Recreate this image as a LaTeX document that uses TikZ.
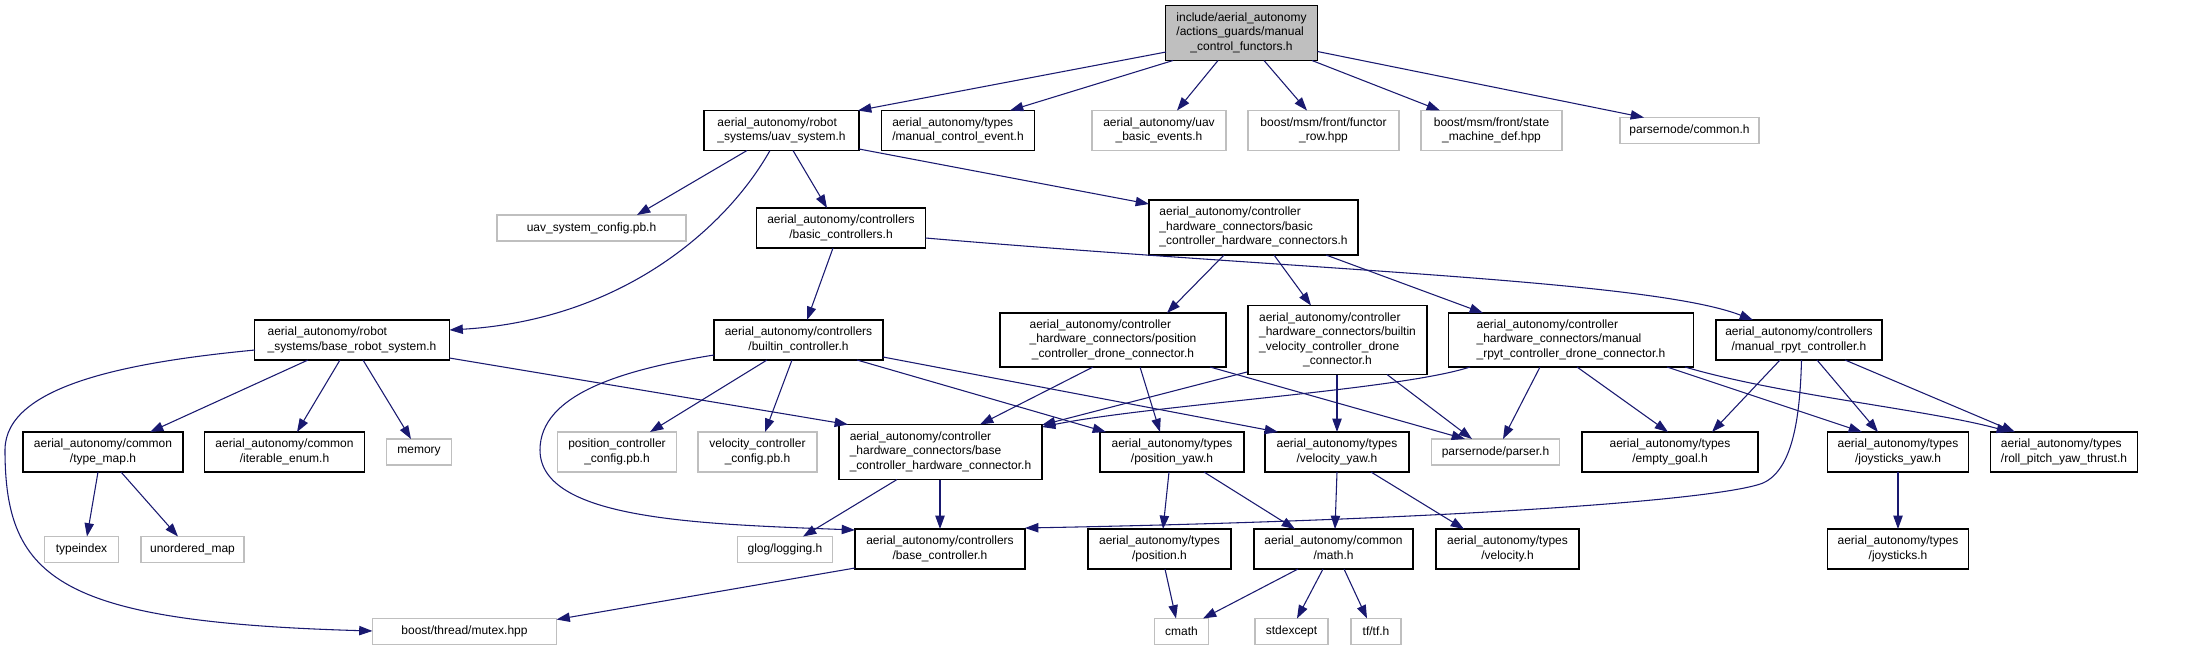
\documentclass[tikz,border=0pt]{standalone}
\usepackage{fontspec}
\setmainfont{Liberation Sans}
\usetikzlibrary{arrows.meta}
\definecolor{gbord}{HTML}{BFBFBF}
\definecolor{gtop}{HTML}{BFBFBF}
\definecolor{navy}{HTML}{191970}
\newcommand\fs{\fontsize{9}{10.9}\selectfont}
\newcommand\lb[2]{\begin{tabular}{@{}l@{}}#1\\\multicolumn{1}{@{}c@{}}{#2}\end{tabular}}
\tikzset{
  sz/.style 2 args={minimum width=#1*0.75pt, minimum height=#2*0.75pt},
  nb/.style={rectangle, draw=black, line width=0.9pt, fill=white, inner sep=0pt, font=\fs},
  ng/.style={rectangle, draw=gbord, line width=0.9pt, fill=white, inner sep=0pt, font=\fs},
  nt/.style={nb, fill=gtop},
  e/.style={draw=navy, line width=0.8pt, -{Triangle[length=10pt,width=7pt]}, fill=none},
}
\begin{document}
\begin{tikzpicture}[x=0.75pt, y=-0.75pt]
\path[use as bounding box, fill=white] (0,0) rectangle (2191,651);
% nodes
\node[nt, sz={152}{55}] (T) at (1241.5,33) {\lb{include/aerial\_autonomy\\/actions\_guards/manual}{\_control\_functors.h}};
\node[nb, sz={155}{40}] (US) at (781.5,130.5) {\lb{aerial\_autonomy/robot}{\_systems/uav\_system.h}};
\node[nb, sz={153}{40}] (MCE) at (958,130.5) {\lb{aerial\_autonomy/types}{/manual\_control\_event.h}};
\node[ng, sz={134}{40}] (UBE) at (1159,130.5) {\lb{aerial\_autonomy/uav}{\_basic\_events.h}};
\node[ng, sz={151}{40}] (FR) at (1323.5,130.5) {\lb{boost/msm/front/functor}{\_row.hpp}};
\node[ng, sz={141}{40}] (SMD) at (1491.5,130.5) {\lb{boost/msm/front/state}{\_machine\_def.hpp}};
\node[ng, sz={139}{26}] (PC) at (1689.5,130.5) {parsernode/common.h};
\node[ng, sz={189}{26}] (USC) at (591.5,228) {uav\_system\_config.pb.h};
\node[nb, sz={169}{40}] (BC) at (841,228) {\lb{aerial\_autonomy/controllers}{/basic\_controllers.h}};
\node[nb, sz={209}{55}] (BCHC) at (1253.5,227.5) {\lb{aerial\_autonomy/controller\\\_hardware\_connectors/basic}{\_controller\_hardware\_connectors.h}};
\node[nb, sz={195}{40}] (BRS) at (352,340) {\lb{aerial\_autonomy/robot}{\_systems/base\_robot\_system.h}};
\node[nb, sz={169}{40}] (BIC) at (798.5,340) {\lb{aerial\_autonomy/controllers}{/builtin\_controller.h}};
\node[nb, sz={226}{54}] (PCDC) at (1113,340) {\lb{aerial\_autonomy/controller\\\_hardware\_connectors/position}{\_controller\_drone\_connector.h}};
\node[nb, sz={179}{69}] (BVDC) at (1337.5,340) {\lb{aerial\_autonomy/controller\\\_hardware\_connectors/builtin\\\_velocity\_controller\_drone}{\_connector.h}};
\node[nb, sz={245}{54}] (MRDC) at (1571,340) {\lb{aerial\_autonomy/controller\\\_hardware\_connectors/manual}{\_rpyt\_controller\_drone\_connector.h}};
\node[nb, sz={166}{40}] (MRC) at (1799,340) {\lb{aerial\_autonomy/controllers}{/manual\_rpyt\_controller.h}};
\node[nb, sz={160}{40}] (TM) at (103,452) {\lb{aerial\_autonomy/common}{/type\_map.h}};
\node[nb, sz={160}{40}] (IE) at (284.5,452) {\lb{aerial\_autonomy/common}{/iterable\_enum.h}};
\node[ng, sz={65}{26}] (MEM) at (419,452) {memory};
\node[ng, sz={119}{40}] (PCC) at (617,452) {\lb{position\_controller}{\_config.pb.h}};
\node[ng, sz={119}{40}] (VCC) at (757.5,452) {\lb{velocity\_controller}{\_config.pb.h}};
\node[nb, sz={203}{55}] (BCHW) at (940.5,452) {\lb{aerial\_autonomy/controller\\\_hardware\_connectors/base}{\_controller\_hardware\_connector.h}};
\node[nb, sz={144}{40}] (PY) at (1172,452) {\lb{aerial\_autonomy/types}{/position\_yaw.h}};
\node[nb, sz={144}{40}] (VY) at (1337,452) {\lb{aerial\_autonomy/types}{/velocity\_yaw.h}};
\node[ng, sz={128}{26}] (PP) at (1495.5,452) {parsernode/parser.h};
\node[nb, sz={176}{40}] (EG) at (1670,452) {\lb{aerial\_autonomy/types}{/empty\_goal.h}};
\node[nb, sz={141}{40}] (JY) at (1898,452) {\lb{aerial\_autonomy/types}{/joysticks\_yaw.h}};
\node[nb, sz={147}{40}] (RPYT) at (2064,452) {\lb{aerial\_autonomy/types}{/roll\_pitch\_yaw\_thrust.h}};
\node[ng, sz={74}{26}] (TI) at (81.5,549.5) {typeindex};
\node[ng, sz={103}{26}] (UM) at (192.5,549.5) {unordered\_map};
\node[ng, sz={95}{26}] (GL) at (785,549.5) {glog/logging.h};
\node[nb, sz={170}{40}] (BCO) at (940,549) {\lb{aerial\_autonomy/controllers}{/base\_controller.h}};
\node[nb, sz={143}{40}] (POS) at (1159.5,549) {\lb{aerial\_autonomy/types}{/position.h}};
\node[nb, sz={159}{40}] (MATH) at (1333.5,549) {\lb{aerial\_autonomy/common}{/math.h}};
\node[nb, sz={143}{40}] (VEL) at (1507.5,549) {\lb{aerial\_autonomy/types}{/velocity.h}};
\node[nb, sz={141}{40}] (JOY) at (1898,549) {\lb{aerial\_autonomy/types}{/joysticks.h}};
\node[ng, sz={184}{26}] (MUT) at (464.5,631.5) {boost/thread/mutex.hpp};
\node[ng, sz={54}{26}] (CM) at (1181.5,631.5) {cmath};
\node[ng, sz={73}{26}] (SE) at (1291.5,631.5) {stdexcept};
\node[ng, sz={50}{26}] (TF) at (1376,631.5) {tf/tf.h};
% edges from top
\draw[e] ([shift={(-75.5,19)}]T.center) -- ([shift={(76.5,-20)}]US.center);
\draw[e] ([shift={(-68.5,27.5)}]T.center) -- ([shift={(52,-20)}]MCE.center);
\draw[e] ([shift={(-23.5,27.5)}]T.center) -- ([shift={(18,-20)}]UBE.center);
\draw[e] ([shift={(22.5,27.5)}]T.center) -- ([shift={(-16.5,-20)}]FR.center);
\draw[e] ([shift={(70.5,27.5)}]T.center) -- ([shift={(-51.5,-20)}]SMD.center);
\draw[e] ([shift={(76,18.5)}]T.center) -- ([shift={(-45.5,-13)}]PC.center);
% uav_system
\draw[e] ([shift={(-34.5,20)}]US.center) -- ([shift={(45.5,-13)}]USC.center);
\draw[e] ([shift={(-11.5,20)}]US.center) .. controls (725,230) and (620,320) .. ([shift={(97.5,-10)}]BRS.center);
\draw[e] ([shift={(11.5,20)}]US.center) -- ([shift={(-14,-20)}]BC.center);
\draw[e] ([shift={(77.5,18.5)}]US.center) -- ([shift={(-104.5,-23.5)}]BCHC.center);
% basic_controllers
\draw[e] ([shift={(-8,20)}]BC.center) -- ([shift={(8.5,-20)}]BIC.center);
\draw[e] ([shift={(84.5,10)}]BC.center) .. controls (1300,270) and (1650,280) .. ([shift={(-46,-20)}]MRC.center);
% basic hw connectors
\draw[e] ([shift={(-29.5,27.5)}]BCHC.center) -- ([shift={(54,-27)}]PCDC.center);
\draw[e] ([shift={(20.5,27.5)}]BCHC.center) -- ([shift={(-26.5,-34.5)}]BVDC.center);
\draw[e] ([shift={(72.5,27.5)}]BCHC.center) -- ([shift={(-88,-27)}]MRDC.center);
% base_robot_system
\draw[e] ([shift={(-44,20)}]BRS.center) -- ([shift={(47,-20)}]TM.center);
\draw[e] ([shift={(-12,20)}]BRS.center) -- ([shift={(12.5,-20)}]IE.center);
\draw[e] ([shift={(11,20)}]BRS.center) -- ([shift={(-8,-13)}]MEM.center);
\draw[e] ([shift={(-97,10)}]BRS.center) .. controls (130,362) and (5,385) .. (5,450) .. controls (5,580) and (60,622) .. ([shift={(-92,-0.5)}]MUT.center);
\draw[e] ([shift={(97.5,18)}]BRS.center) -- ([shift={(-92.5,-27.5)}]BCHW.center);
% builtin_controller
\draw[e] ([shift={(-31.5,20)}]BIC.center) -- ([shift={(33,-20)}]PCC.center);
\draw[e] ([shift={(-6.5,20)}]BIC.center) -- ([shift={(7.5,-20)}]VCC.center);
\draw[e] ([shift={(-84.5,15)}]BIC.center) .. controls (620,370) and (540,395) .. (540,450) .. controls (540,520) and (700,524) .. ([shift={(-85,-19)}]BCO.center);
\draw[e] ([shift={(58.5,20)}]BIC.center) -- ([shift={(-66,-20)}]PY.center);
\draw[e] ([shift={(84.5,17)}]BIC.center) -- ([shift={(-59,-20)}]VY.center);
% position drone connector
\draw[e] ([shift={(-20,27)}]PCDC.center) -- ([shift={(39.5,-27.5)}]BCHW.center);
\draw[e] ([shift={(27,27)}]PCDC.center) -- ([shift={(-12,-20)}]PY.center);
\draw[e] ([shift={(97,27)}]PCDC.center) -- ([shift={(-30.5,-13)}]PP.center);
% builtin velocity drone connector
\draw[e] ([shift={(-90.5,32)}]BVDC.center) -- ([shift={(101.5,-27)}]BCHW.center);
\draw[e] ([shift={(-0.5,34.5)}]BVDC.center) -- ([shift={(0,-20)}]VY.center);
\draw[e] ([shift={(49.5,34.5)}]BVDC.center) -- ([shift={(-23.5,-13)}]PP.center);
% manual rpyt drone connector
\draw[e] ([shift={(-101,27)}]MRDC.center) .. controls (1400,390) and (1150,405) .. ([shift={(101.5,-25)}]BCHW.center);
\draw[e] ([shift={(-31,27)}]MRDC.center) -- ([shift={(7.5,-13)}]PP.center);
\draw[e] ([shift={(6,27)}]MRDC.center) -- ([shift={(-2,-20)}]EG.center);
\draw[e] ([shift={(96,27)}]MRDC.center) -- ([shift={(-36,-20)}]JY.center);
\draw[e] ([shift={(114,27)}]MRDC.center) .. controls (1780,395) and (1930,410) .. ([shift={(-54,-20)}]RPYT.center);
% manual rpyt controller
\draw[e] ([shift={(-19,20)}]MRC.center) -- ([shift={(42,-20)}]EG.center);
\draw[e] ([shift={(2.5,20)}]MRC.center) .. controls (1800,420) and (1792,470) .. (1763,483) .. controls (1720,500) and (1450,520) .. ([shift={(85,-21)}]BCO.center);
\draw[e] ([shift={(18,20)}]MRC.center) -- ([shift={(-20,-20)}]JY.center);
\draw[e] ([shift={(46,20)}]MRC.center) -- ([shift={(-49,-20)}]RPYT.center);
% type_map
\draw[e] ([shift={(-5,20)}]TM.center) -- ([shift={(5.5,-13)}]TI.center);
\draw[e] ([shift={(18,20)}]TM.center) -- ([shift={(-14.5,-13)}]UM.center);
% base hw connector
\draw[e] ([shift={(-43.5,27.5)}]BCHW.center) -- ([shift={(18,-13)}]GL.center);
\draw[e] ([shift={(-0.5,27.5)}]BCHW.center) -- ([shift={(0,-20)}]BCO.center);
% base controller
\draw[e] ([shift={(-85,19)}]BCO.center) -- ([shift={(92,-12)}]MUT.center);
% types
\draw[e] ([shift={(-3,20)}]PY.center) -- ([shift={(3.5,-20)}]POS.center);
\draw[e] ([shift={(32,20)}]PY.center) -- ([shift={(-38.5,-20)}]MATH.center);
\draw[e] ([shift={(0,20)}]VY.center) -- ([shift={(1.5,-20)}]MATH.center);
\draw[e] ([shift={(34,20)}]VY.center) -- ([shift={(-43.5,-20)}]VEL.center);
\draw[e] ([shift={(5.5,20)}]POS.center) -- ([shift={(-5.5,-13)}]CM.center);
\draw[e] ([shift={(-35.5,20)}]MATH.center) -- ([shift={(21.5,-13)}]CM.center);
\draw[e] ([shift={(-10.5,20)}]MATH.center) -- ([shift={(5.5,-13)}]SE.center);
\draw[e] ([shift={(10.5,20)}]MATH.center) -- ([shift={(-9,-13)}]TF.center);
\draw[e] ([shift={(0,20)}]JY.center) -- ([shift={(0,-20)}]JOY.center);
\end{tikzpicture}
\end{document}
